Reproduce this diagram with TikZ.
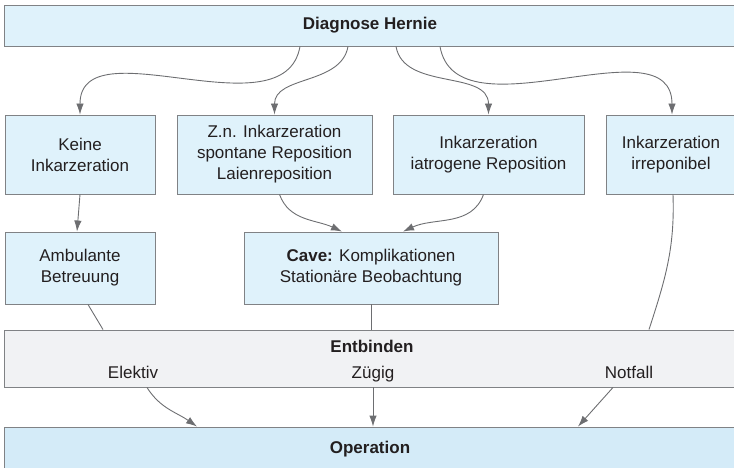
\documentclass[tikz,border=0pt]{standalone}
\usepackage{fontspec}
\setmainfont{Liberation Sans}
\usepackage{xcolor}
\usetikzlibrary{positioning,arrows.meta}
\definecolor{boxblue}{HTML}{DFF2FB}
\definecolor{opblue}{HTML}{D4EBF8}
\definecolor{boxgrey}{HTML}{F1F2F4}
\definecolor{framegrey}{HTML}{808285}
\definecolor{arrgrey}{HTML}{6D6E71}
\definecolor{txtgrey}{HTML}{231F20}
\begin{document}
\begin{tikzpicture}[x=1pt,y=-1pt]
\tikzstyle{every node}+=[inner sep=0pt, text=txtgrey, font=\fontsize{17}{21}\selectfont]
\tikzstyle{box}=[draw=framegrey, fill=boxblue, line width=0.9pt, align=center]
\tikzstyle{titletext}=[font=\fontsize{17}{21}\selectfont\bfseries]
\tikzstyle{labeltext}=[text height=12pt, text depth=3.5pt]
\tikzstyle{arr}=[draw=arrgrey, line width=0.9pt, -{Latex[length=11pt,width=7.5pt]}]
\tikzstyle{lin}=[draw=arrgrey, line width=0.9pt]
\useasboundingbox (0,0) rectangle (734,468);
\node [box, titletext, minimum width=732pt, minimum height=41pt] (diagnose) at (370,25.5) {Diagnose Hernie};
\node [box, minimum width=150pt, minimum height=79pt] (keine) at (80,154.5) {Keine\\Inkarzeration};
\node [box, minimum width=195pt, minimum height=79pt] (zn) at (274.5,154.5) {Z.n. Inkarzeration\\spontane Reposition\\Laienreposition};
\node [box, minimum width=191pt, minimum height=79pt] (iatrogen) at (488.5,154.5) {Inkarzeration\\iatrogene Reposition};
\node [box, minimum width=130pt, minimum height=79pt] (irreponibel) at (671,154.5) {Inkarzeration\\irreponibel};
\node [box, minimum width=150pt, minimum height=72pt] (ambulant) at (80,268) {Ambulante\\Betreuung};
\node [box, minimum width=254pt, minimum height=72pt] (cave) at (371,268) {\textbf{Cave:} Komplikationen\\Station\"are Beobachtung};
\node [box, fill=boxgrey, minimum width=732pt, minimum height=57pt] (entbinden) at (370,358.5) {};
\node [titletext] (entbtitle) at (372,346) {Entbinden};
\node [labeltext] (elektiv) at (133,374) {Elektiv};
\node [labeltext] (zuegig) at (373,374) {Z\"ugig};
\node [labeltext] (notfall) at (629,374) {Notfall};
\node [box, titletext, fill=opblue, minimum width=732pt, minimum height=44pt] (operation) at (370,449) {Operation};
\draw [arr] ([xshift=-70pt]diagnose.south) to[out=-100,in=90] (keine.north);
\draw [arr] ([xshift=-22pt]diagnose.south) to[out=-100,in=90] (zn.north);
\draw [arr] ([xshift=26pt]diagnose.south) to[out=-80,in=90] (iatrogen.north);
\draw [arr] ([xshift=70pt]diagnose.south) to[out=-80,in=90] ([xshift=1pt]irreponibel.north);
\draw [arr] (keine.south) -- ([xshift=-3pt]ambulant.north);
\draw [arr] ([xshift=5pt]zn.south) to[out=-70,in=155] ([xshift=-29pt]cave.north);
\draw [arr] ([xshift=-5pt]iatrogen.south) to[out=-110,in=25] ([xshift=32pt]cave.north);
\draw [lin] ([xshift=8pt]ambulant.south) -- ([xshift=-267pt]entbinden.north);
\draw [lin] (cave.south) -- (cave.south |- entbinden.north);
\draw [lin] ([xshift=2pt]irreponibel.south) to[out=-88,in=72] ([xshift=279pt]entbinden.north);
\draw [arr] ([xshift=-223pt]entbinden.south) to[out=-58,in=145] ([xshift=-173pt]operation.north);
\draw [arr] ([xshift=3pt]entbinden.south) -- ([xshift=3pt]operation.north);
\draw [arr] ([xshift=243pt]entbinden.south) -- ([xshift=208pt]operation.north);
\end{tikzpicture}
\end{document}
